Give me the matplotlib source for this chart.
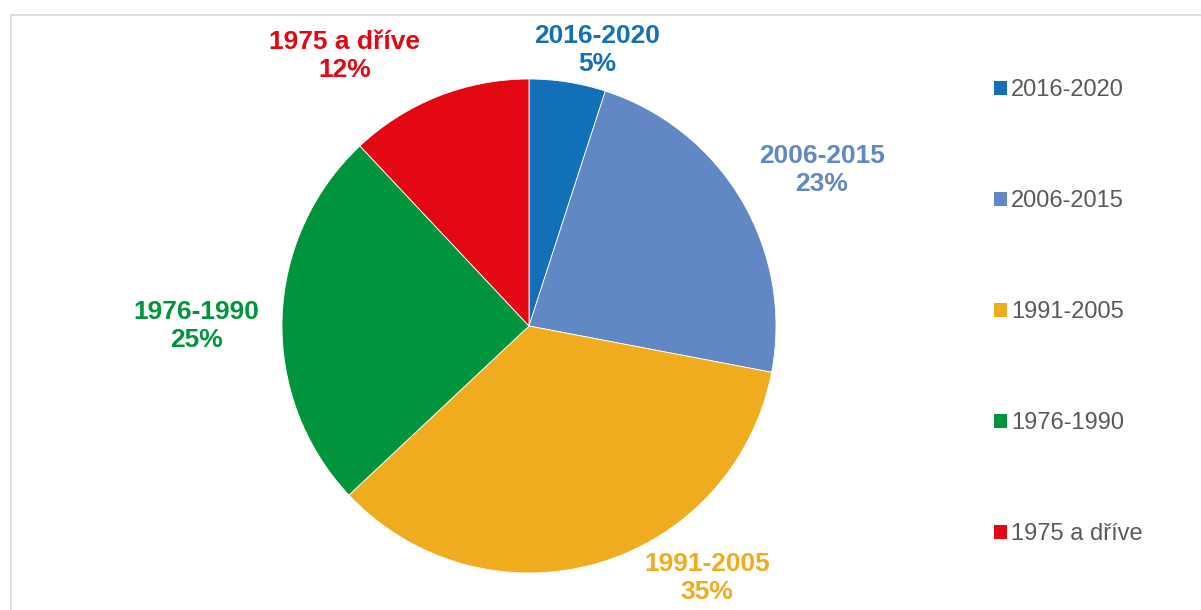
import matplotlib.pyplot as plt
from matplotlib.patches import Patch, Rectangle

plt.rcParams['font.family'] = ['Liberation Sans', 'DejaVu Sans']

# data (clockwise from 12 o'clock)
periods = ['2016-2020', '2006-2015', '1991-2005', '1976-1990', '1975 a dříve']
shares = [5, 23, 35, 25, 12]
colors = ['#1170b8', '#6187c4', '#efac1f', '#00953d', '#e30613']

# label anchor points, in pie-radius units
label_pos = [(0.275, 1.117), (1.186, 0.632), (0.721, -1.020),
             (-1.348, 0.0), (-0.745, 1.093)]

W, H = 1201, 610
fig = plt.figure(figsize=(W / 100, H / 100), dpi=100)

# pie axes: centre at (529, 326) px from top-left, radius 247 px
R = 247
cx, cy = 529, H - 326
side = 3 * R
ax = fig.add_axes([(cx - side / 2) / W, (cy - side / 2) / H, side / W, side / H])

wedges, _ = ax.pie(shares, colors=colors, startangle=90, counterclock=False,
                   radius=1.0, wedgeprops=dict(edgecolor='white', linewidth=0.6))
ax.set_xlim(-1.5, 1.5)
ax.set_ylim(-1.5, 1.5)
ax.set_aspect('equal')
ax.axis('off')

for (x, y), name, val, col in zip(label_pos, periods, shares, colors):
    ax.text(x, y, f'{name}\n{val}%', color=col, fontsize=19, fontweight='bold',
            ha='center', va='center', linespacing=1.2, clip_on=False)

# chart frame (only top and left edges are visible in the crop)
fig.patches.append(Rectangle((10.5 / W, -0.1), 2, 1.1 - 15.5 / H, transform=fig.transFigure,
                             fill=False, edgecolor='#d9d9d9', linewidth=1.3))

handles = [Patch(facecolor=c, edgecolor='none') for c in colors]
fig.legend(handles, periods, loc='upper left', bbox_to_anchor=(985 / W, 1 - 70 / H),
           frameon=False, fontsize=17, labelcolor='#595959',
           handlelength=0.55, handleheight=0.55, handletextpad=0.15,
           labelspacing=3.77, borderaxespad=0)

fig.savefig('out.png', dpi=100)
